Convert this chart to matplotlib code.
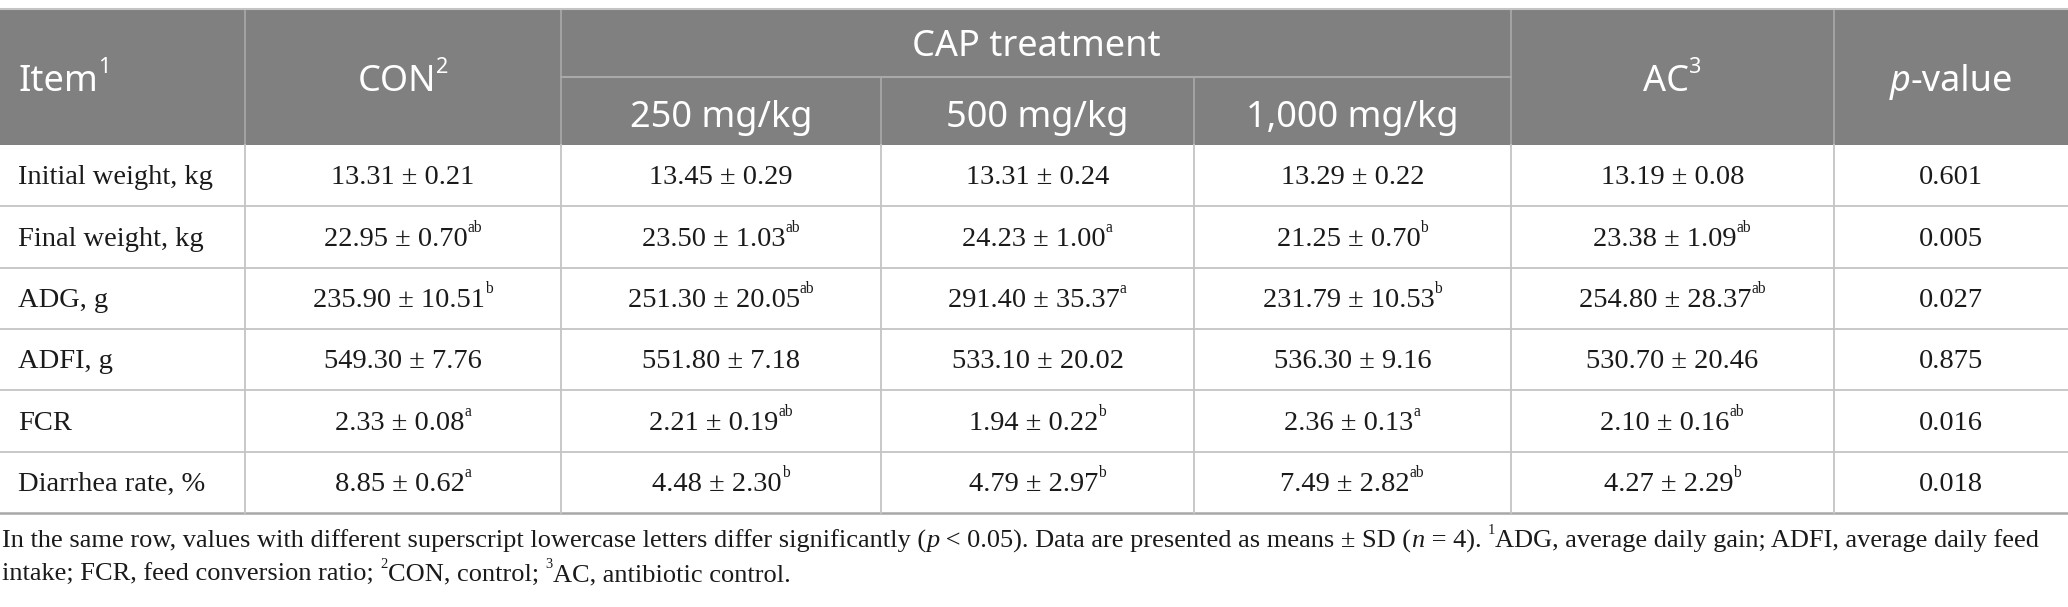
import matplotlib
matplotlib.use("Agg")
import matplotlib.pyplot as plt
from matplotlib.patches import Rectangle

# ---------------- data ----------------
items = ["Initial weight, kg", "Final weight, kg", "ADG, g", "ADFI, g", "FCR", "Diarrhea rate, %"]
con_mean = [13.31, 22.95, 235.90, 549.30, 2.33, 8.85]
con_sd = [0.21, 0.70, 10.51, 7.76, 0.08, 0.62]
con_sup = ["", "ab", "b", "", "a", "a"]
cap250_mean = [13.45, 23.50, 251.30, 551.80, 2.21, 4.48]
cap250_sd = [0.29, 1.03, 20.05, 7.18, 0.19, 2.30]
cap250_sup = ["", "ab", "ab", "", "ab", "b"]
cap500_mean = [13.31, 24.23, 291.40, 533.10, 1.94, 4.79]
cap500_sd = [0.24, 1.00, 35.37, 20.02, 0.22, 2.97]
cap500_sup = ["", "a", "a", "", "b", "b"]
cap1000_mean = [13.29, 21.25, 231.79, 536.30, 2.36, 7.49]
cap1000_sd = [0.22, 0.70, 10.53, 9.16, 0.13, 2.82]
cap1000_sup = ["", "b", "b", "", "a", "ab"]
ac_mean = [13.19, 23.38, 254.80, 530.70, 2.10, 4.27]
ac_sd = [0.08, 1.09, 28.37, 20.46, 0.16, 2.29]
ac_sup = ["", "ab", "ab", "", "ab", "b"]
p_values = ["0.601", "0.005", "0.027", "0.875", "0.016", "0.018"]

group_label = "CAP treatment"
dose_labels = ["250 mg/kg", "500 mg/kg", "1,000 mg/kg"]

# ---------------- layout ----------------
W, H = 2068, 607
fig = plt.figure(figsize=(W / 100, H / 100), dpi=100)
ax = fig.add_axes([0, 0, 1, 1])
ax.set_xlim(0, W)
ax.set_ylim(H, 0)
ax.axis("off")
renderer = fig.canvas.get_renderer()

col_x = [0, 245, 561, 881, 1194, 1511, 1834, W]
top, split, hbot = 9, 77, 145
row_h = (513 - hbot) / 6.0
row_y = [hbot + i * row_h for i in range(7)]

HEAD_BG = "#808080"
HEAD_LINE = "#a9a9a9"
GRID = "#c4c4c4"
TXT = "#1a1a1a"
SANS = "Noto Sans"
SERIF = "Liberation Serif"
HSIZE = 26
BSIZE = 20.5
FSIZE = 19

ax.add_patch(Rectangle((0, top), W, hbot - top, facecolor=HEAD_BG, edgecolor="none", zorder=1))


def runs(x, y, segs, family, size, color, ha="center", sup_scale=0.6):
    """draw a list of (text, style) segments; style n / i / s (superscript)"""
    objs = []
    total = 0
    for txt, st in segs:
        sz = size * sup_scale if st == "s" else size
        t = ax.text(0, 0, txt, fontsize=sz, family=family, color=color,
                    style="italic" if st == "i" else "normal",
                    ha="left", va="center", zorder=5)
        w = t.get_window_extent(renderer).width
        objs.append((t, st, w))
        total += w
    cx = x - total / 2 if ha == "center" else x
    for t, st, w in objs:
        dy = -size * 0.55 if st == "s" else 0
        t.set_position((cx, y + dy))
        cx += w
    return total


# header lines
for xv in col_x[1:-1]:
    if xv in (881, 1194):
        ax.plot([xv, xv], [split, hbot], color=HEAD_LINE, lw=1.2, zorder=2)
    else:
        ax.plot([xv, xv], [top, hbot], color=HEAD_LINE, lw=1.2, zorder=2)
ax.plot([col_x[2], col_x[5]], [split, split], color=HEAD_LINE, lw=1.5, zorder=2)
ax.plot([0, W], [top, top], color=GRID, lw=1.5, zorder=2)

# header text
hmid = (top + hbot) / 2 + 5
runs(18, hmid, [("Item", "n"), ("1", "s")], SANS, HSIZE, "white", ha="left")
runs((col_x[1] + col_x[2]) / 2, hmid, [("CON", "n"), ("2", "s")], SANS, HSIZE, "white")
runs((col_x[2] + col_x[5]) / 2, (top + split) / 2 + 4, [(group_label, "n")], SANS, HSIZE, "white")
for i, lab in enumerate(dose_labels):
    runs((col_x[2 + i] + col_x[3 + i]) / 2, (split + hbot) / 2 + 7, [(lab, "n")], SANS, HSIZE, "white")
runs((col_x[5] + col_x[6]) / 2, hmid, [("AC", "n"), ("3", "s")], SANS, HSIZE, "white")
runs((col_x[6] + col_x[7]) / 2, hmid, [("p", "i"), ("-value", "n")], SANS, HSIZE, "white")

# body grid
for yv in row_y[1:-1]:
    ax.plot([0, W], [yv, yv], color=GRID, lw=1.3, zorder=2)
ax.plot([0, W], [row_y[-1], row_y[-1]], color="#a8a8a8", lw=1.8, zorder=2)
for xv in col_x[1:-1]:
    ax.plot([xv, xv], [hbot, row_y[-1]], color=GRID, lw=1.3, zorder=2)

groups = [(con_mean, con_sd, con_sup), (cap250_mean, cap250_sd, cap250_sup),
          (cap500_mean, cap500_sd, cap500_sup), (cap1000_mean, cap1000_sd, cap1000_sup),
          (ac_mean, ac_sd, ac_sup)]

for r in range(len(items)):
    yc = (row_y[r] + row_y[r + 1]) / 2 + 2
    runs(18, yc, [(items[r], "n")], SERIF, BSIZE, TXT, ha="left")
    for g, (m, s, sp) in enumerate(groups):
        segs = [(f"{m[r]:.2f} ± {s[r]:.2f}", "n")]
        if sp[r]:
            segs.append((sp[r], "s"))
        runs((col_x[1 + g] + col_x[2 + g]) / 2, yc, segs, SERIF, BSIZE, TXT, sup_scale=0.55)
    runs((col_x[6] + col_x[7]) / 2, yc, [(p_values[r], "n")], SERIF, BSIZE, TXT)

# footnote
line1 = [("In the same row, values with different superscript lowercase letters differ significantly (", "n"),
         ("p", "i"), (" < 0.05). Data are presented as means ± SD (", "n"), ("n", "i"),
         (" = 4). ", "n"), ("1", "s"),
         ("ADG, average daily gain; ADFI, average daily feed", "n")]
line2 = [("intake; FCR, feed conversion ratio; ", "n"), ("2", "s"), ("CON, control; ", "n"),
         ("3", "s"), ("AC, antibiotic control.", "n")]
runs(2, 541, line1, SERIF, FSIZE, TXT, ha="left", sup_scale=0.55)
runs(2, 575, line2, SERIF, FSIZE, TXT, ha="left", sup_scale=0.55)

fig.savefig("out.png", dpi=100)
